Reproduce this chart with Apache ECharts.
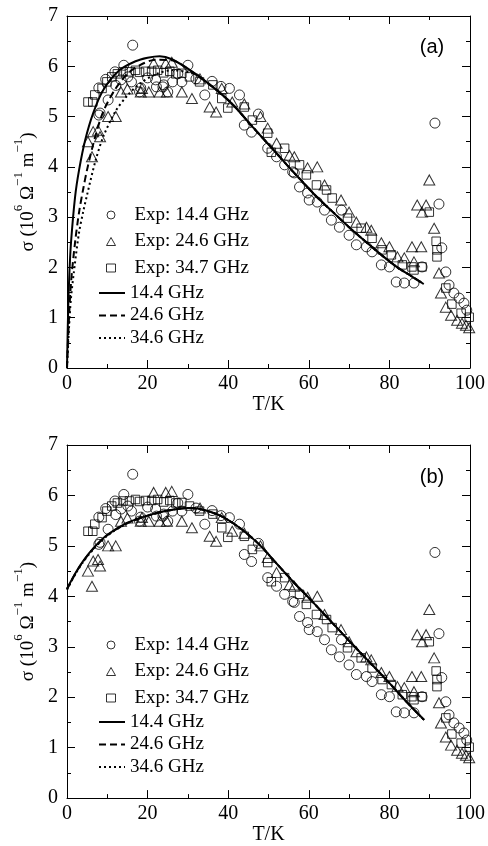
<!DOCTYPE html>
<html><head><meta charset="utf-8">
<script src="https://cdn.jsdelivr.net/npm/echarts@6/dist/echarts.min.js"></script>
<style>html,body{margin:0;padding:0;background:#fff}#c{width:488px;height:846px}</style>
</head><body><div id="c"></div><script>
// Experimental data [T (K), sigma (10^6 Ohm^-1 m^-1)]
const exp144 = [[7.9,5.57],[7.9,5.03],[8.2,5.07],[9.6,5.74],[10.2,5.33],[11.9,5.89],[12.1,5.62],[13.4,5.73],[14.1,6.02],[15.1,5.79],[16.0,5.69],[16.3,6.42],[18.0,5.49],[18.3,5.57],[20.0,5.77],[22.0,5.73],[22.2,5.59],[23.8,5.59],[24.0,5.63],[25.0,5.49],[26.2,5.69],[27.5,5.85],[28.5,5.69],[30.0,6.02],[32.0,5.75],[34.2,5.43],[36.0,5.7],[38.2,5.6],[40.3,5.56],[42.8,5.43],[44.0,4.83],[45.8,4.69],[47.5,5.05],[49.8,4.37],[52.0,4.2],[54.0,4.04],[56.0,3.9],[56.4,3.88],[57.7,3.6],[59.7,3.48],[60.1,3.34],[62.1,3.3],[63.9,3.14],[65.6,2.94],[67.6,2.8],[68.1,3.14],[70.0,2.64],[71.8,2.45],[74.3,2.41],[75.7,2.31],[78.0,2.05],[80.0,2.01],[81.7,1.71],[83.7,1.69],[86.1,1.69],[88.1,2.01],[91.3,4.87],[92.3,3.26],[93.0,2.39],[94.0,1.91],[94.8,1.65],[96.0,1.49],[97.3,1.39],[98.5,1.29],[99.2,1.15]];
const exp246 = [[5.2,4.5],[6.2,4.2],[6.5,4.7],[7.7,4.73],[8.2,4.6],[10.2,5.0],[12.1,5.0],[13.4,5.49],[15.0,5.55],[18.3,5.49],[18.6,5.56],[20.3,5.49],[21.5,6.06],[23.0,5.49],[24.5,6.06],[24.8,5.49],[26.0,6.08],[28.5,5.49],[31.0,5.36],[33.0,5.75],[35.4,5.19],[37.0,5.09],[38.4,5.56],[41.0,5.29],[44.0,5.25],[48.0,5.0],[49.8,4.77],[52.0,4.47],[55.2,4.23],[56.4,4.2],[59.7,3.98],[62.1,4.0],[63.9,3.64],[68.0,3.34],[70.0,3.1],[71.8,2.9],[74.3,2.8],[75.5,2.74],[78.0,2.49],[80.0,2.41],[82.0,2.21],[83.7,2.19],[85.6,2.41],[86.1,2.11],[86.9,3.24],[87.9,2.41],[88.1,3.1],[89.1,3.24],[89.9,3.74],[91.1,2.78],[92.3,1.89],[92.8,1.49],[94.0,1.21],[95.3,1.05],[96.8,0.95],[98.0,0.89],[99.0,0.85],[99.8,0.8]];
const exp347 = [[5.2,5.29],[6.4,5.29],[6.9,5.43],[8.7,5.56],[9.9,5.69],[11.1,5.79],[12.5,5.85],[13.9,5.89],[15.5,5.89],[17.0,5.92],[18.0,5.88],[19.5,5.9],[21.0,5.9],[22.5,5.92],[24.0,5.87],[25.5,5.9],[27.0,5.85],[28.5,5.86],[30.4,5.79],[32.9,5.69],[36.2,5.63],[38.4,5.36],[39.9,5.17],[44.0,5.19],[46.0,4.93],[49.8,4.67],[50.7,4.29],[54.0,4.37],[57.7,4.04],[59.4,3.84],[61.9,3.64],[64.4,3.54],[65.8,3.38],[69.6,2.98],[73.0,2.78],[75.7,2.58],[78.2,2.35],[80.5,2.25],[83.2,2.05],[85.6,2.01],[86.1,1.95],[88.1,2.01],[89.9,3.1],[91.6,2.52],[91.8,2.35],[91.8,2.21],[94.0,1.59],[95.5,1.27],[97.8,1.09],[99.8,1.01]];

// Model curves, panel (a)
const fitA144 = [[0,0],[0.3,1.2],[0.6,1.9],[1,2.5],[2,3.4],[3,3.94],[4.5,4.53],[6.5,5.07],[9,5.53],[13,5.92],[17,6.1],[20,6.17],[23,6.2],[26,6.14],[31,5.9],[36,5.6],[41,5.25],[46,4.8],[52,4.27],[55,4.0],[58,3.74],[62,3.4],[66,3.1],[70,2.8],[74,2.52],[78,2.25],[82,2.0],[85,1.85],[88.5,1.67]];
const fitA246 = [[0,0],[0.5,1.0],[1,1.7],[2,2.5],[3,3.1],[4,3.55],[5,3.95],[7,4.6],[9,5.1],[12,5.55],[15,5.85],[18,6.02],[22,6.13],[26,6.12],[31,5.89],[36,5.6],[41,5.25],[46,4.8],[52,4.27],[55,4.0],[58,3.74],[62,3.4],[66,3.1],[70,2.8],[74,2.52],[78,2.25],[82,2.0],[85,1.85],[88.5,1.67]];
const fitA346 = [[0,0],[0.5,0.8],[1,1.4],[2,2.1],[3,2.7],[4,3.1],[5,3.45],[7,4.1],[9,4.6],[12,5.1],[15,5.42],[18,5.65],[22,5.84],[26,5.92],[31,5.86],[36,5.6],[41,5.25],[46,4.8],[52,4.27],[55,4.0],[58,3.74],[62,3.4],[66,3.1],[70,2.8],[74,2.52],[78,2.25],[82,2.0],[85,1.85],[88.5,1.67]];
// Model curves, panel (b)
const fitB144 = [[0,4.15],[2,4.45],[4,4.7],[6.5,4.95],[10,5.22],[15,5.46],[20,5.6],[25,5.7],[30,5.75],[33,5.73],[38,5.6],[43,5.35],[47.8,5.02],[52,4.65],[56,4.3],[60,3.97],[64,3.63],[68,3.29],[72,2.95],[76,2.62],[80,2.28],[84,1.93],[88.6,1.55]];
const fitB246 = [[0,4.14],[2,4.44],[4,4.69],[6.5,4.94],[10,5.21],[15,5.45],[20,5.6],[25,5.7],[30,5.75],[33,5.73],[38,5.6],[43,5.35],[47.8,5.02],[52,4.65],[56,4.3],[60,3.97],[64,3.63],[68,3.29],[72,2.95],[76,2.62],[80,2.28],[84,1.93],[88.6,1.55]];
const fitB346 = [[0,4.13],[2,4.43],[4,4.68],[6.5,4.93],[10,5.2],[15,5.45],[20,5.6],[25,5.7],[30,5.75],[33,5.73],[38,5.6],[43,5.35],[47.8,5.02],[52,4.65],[56,4.3],[60,3.97],[64,3.63],[68,3.29],[72,2.95],[76,2.62],[80,2.28],[84,1.93],[88.6,1.55]];

const expNames = ['Exp: 14.4 GHz','Exp: 24.6 GHz','Exp: 34.7 GHz'];
const fitNames = ['14.4 GHz','24.6 GHz','34.6 GHz'];
const panelLabels = ['(a)','(b)'];

const SERIF = 'Liberation Serif';
const grids = [
  {left:67, top:16, right:17, height:352},
  {left:67, top:445, right:17, height:355}
];

const tickLabel = {fontFamily:SERIF, fontSize:20, color:'#000'};
const axLine = {onZero:false, lineStyle:{color:'#000', width:1}};
const axTick = {inside:true, length:8, lineStyle:{color:'#000', width:1}};
const minTick = {show:true, splitNumber:2, length:4, lineStyle:{color:'#000', width:1}};

const xAxes = [], yAxes = [];
grids.forEach((g, i) => {
  xAxes.push({gridIndex:i, type:'value', min:0, max:100, interval:20, position:'bottom',
    axisLine:axLine, axisTick:axTick, minorTick:minTick, splitLine:{show:false},
    axisLabel:Object.assign({margin:6}, tickLabel),
    name:'T/K', nameLocation:'middle', nameGap:25,
    nameTextStyle:{fontFamily:SERIF, fontSize:20, color:'#000'}});
  xAxes.push({gridIndex:i, type:'value', min:0, max:100, interval:20, position:'top',
    axisLine:axLine, axisTick:axTick, minorTick:minTick, splitLine:{show:false},
    axisLabel:{show:false}});
  yAxes.push({gridIndex:i, type:'value', min:0, max:7, interval:1, position:'left',
    axisLine:axLine, axisTick:axTick, minorTick:minTick, splitLine:{show:false},
    axisLabel:Object.assign({margin:9}, tickLabel),
    name:'{n|σ (10}{s|6}{n| Ω}{s|−1}{n| m}{s|−1}{n|)}',
    nameLocation:'middle', nameRotate:90, nameGap:27,
    nameTextStyle:{fontFamily:SERIF, fontSize:19, color:'#000',
      rich:{
        n:{fontFamily:SERIF, fontSize:19, color:'#000', lineHeight:25, verticalAlign:'bottom'},
        s:{fontFamily:SERIF, fontSize:13, color:'#000', lineHeight:14, verticalAlign:'top'}
      }}});
  yAxes.push({gridIndex:i, type:'value', min:0, max:7, interval:1, position:'right',
    axisLine:axLine, axisTick:axTick, minorTick:minTick, splitLine:{show:false},
    axisLabel:{show:false}});
});

const hollow = {color:'rgba(0,0,0,0)', borderColor:'#000', borderWidth:1};
const series = [];
const fits = [[fitA144, fitA246, fitA346],[fitB144, fitB246, fitB346]];
const lineTypes = ['solid', [7,4], [2,3]];
grids.forEach((g, i) => {
  const xi = i*2, yi = i*2;
  series.push({name:expNames[0], type:'scatter', xAxisIndex:xi, yAxisIndex:yi, data:exp144,
    symbol:'circle', symbolSize:10, itemStyle:hollow});
  series.push({name:expNames[1], type:'scatter', xAxisIndex:xi, yAxisIndex:yi, data:exp246,
    symbol:'triangle', symbolSize:[11,10], itemStyle:hollow});
  series.push({name:expNames[2], type:'scatter', xAxisIndex:xi, yAxisIndex:yi, data:exp347,
    symbol:'rect', symbolSize:8.5, itemStyle:hollow});
  fits[i].forEach((d, k) => {
    series.push({name:fitNames[k], type:'line', xAxisIndex:xi, yAxisIndex:yi, data:d,
      showSymbol:false, symbol:'none', smooth:0.3,
      lineStyle:{color:'#000', width:2, type:lineTypes[k]}, itemStyle:{color:'#000'}, z:3});
  });
});

const legTxt = {fontFamily:SERIF, fontSize:19, color:'#000', lineHeight:20};
const legends = [];
[[205,283],[635,712]].forEach(([t1,t2]) => {
  legends.push({data:expNames, orient:'vertical', left:106, top:t1, itemWidth:9, itemHeight:8,
    itemGap:6.5, padding:0, selectedMode:false, symbolKeepAspect:true,
    textStyle:Object.assign({padding:[0,0,0,14]}, legTxt),
    itemStyle:{borderWidth:1, borderColor:'#000', color:'rgba(0,0,0,0)'}});
  legends.push({data:fitNames, orient:'vertical', left:98, top:t2, itemWidth:26, itemHeight:10,
    itemGap:2.5, padding:0, selectedMode:false, textStyle:legTxt,
    itemStyle:{color:'rgba(0,0,0,0)', borderWidth:0, borderColor:'rgba(0,0,0,0)', opacity:0}});
});

const chart = echarts.init(document.getElementById('c'));
chart.setOption({
  animation:false,
  backgroundColor:'#fff',
  grid:grids,
  xAxis:xAxes,
  yAxis:yAxes,
  legend:legends,
  series:series,
  graphic:[
    {type:'text', x:432, y:47, style:{text:panelLabels[0], fontFamily:'Liberation Sans', fontSize:20, fill:'#000', align:'center', verticalAlign:'middle'}},
    {type:'text', x:432, y:477, style:{text:panelLabels[1], fontFamily:'Liberation Sans', fontSize:20, fill:'#000', align:'center', verticalAlign:'middle'}}
  ]
});
</script></body></html>
